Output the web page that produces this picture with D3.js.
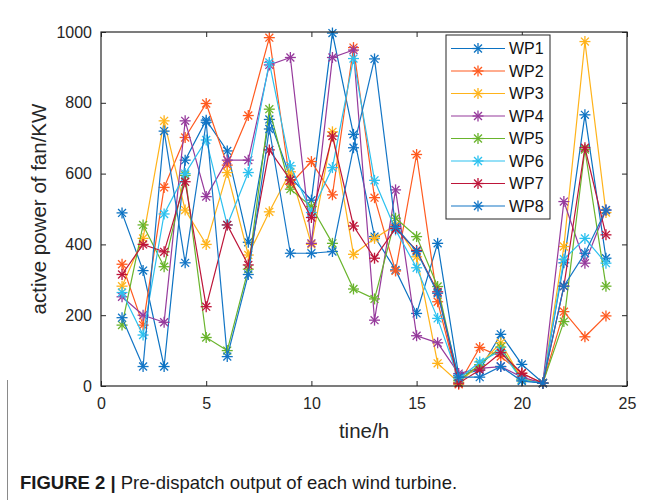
<!DOCTYPE html>
<html>
<head>
<meta charset="utf-8">
<script src="https://cdn.jsdelivr.net/npm/d3@7"></script>
<style>
  html, body { margin: 0; padding: 0; background: #ffffff; }
  svg { display: block; }
  text { font-family: "Liberation Sans", Arial, Helvetica, sans-serif; }
</style>
</head>
<body>
<svg id="chart" width="651" height="500"></svg>
<script>
// Hours of the day (x values)
const hours = d3.range(1, 25);

// Pre-dispatch active power of each wind turbine (kW)
const WP1 = [489, 326, 55, 638, 751, 664, 406, 753, 590, 525, 997, 711, 422, 328, 205, 403, 30, 45, 146, 61, 9, 348, 766, 361];
const WP2 = [344, 172, 561, 702, 798, 624, 764, 984, 570, 634, 540, 956, 532, 325, 654, 238, 5, 109, 83, 36, 8, 210, 139, 198];
const WP3 = [282, 417, 749, 497, 400, 603, 370, 492, 605, 400, 718, 372, 417, 455, 365, 64, 10, 60, 122, 20, 8, 394, 973, 490];
const WP4 = [252, 200, 180, 749, 535, 638, 638, 907, 928, 403, 928, 949, 186, 554, 142, 122, 35, 50, 55, 25, 8, 521, 347, 497];
const WP5 = [172, 455, 337, 595, 137, 100, 330, 782, 556, 507, 403, 274, 246, 474, 422, 281, 15, 60, 110, 17, 8, 182, 668, 282];
const WP6 = [264, 144, 486, 600, 695, 455, 603, 914, 622, 490, 617, 925, 581, 441, 334, 191, 20, 68, 100, 17, 8, 358, 417, 347];
const WP7 = [315, 400, 379, 577, 224, 455, 342, 667, 582, 476, 706, 452, 361, 445, 383, 266, 8, 45, 94, 36, 8, 282, 673, 427];
const WP8 = [193, 55, 720, 348, 745, 83, 315, 726, 375, 375, 380, 673, 924, 450, 380, 262, 25, 25, 55, 14, 8, 282, 375, 497];

const seriesNames = ["WP1", "WP2", "WP3", "WP4", "WP5", "WP6", "WP7", "WP8"];
const seriesValues = [WP1, WP2, WP3, WP4, WP5, WP6, WP7, WP8];
const seriesColors = ["#0b72c2", "#ff5a1f", "#ffb31a", "#963a9c", "#69b42c", "#2cc1ef", "#bd1539", "#1476c6"];

const xTicks = [0, 5, 10, 15, 20, 25];
const yTicks = [0, 200, 400, 600, 800, 1000];

const svg = d3.select("#chart");
const axisColor = "#262626";

const plot = { left: 101, right: 627, top: 32, bottom: 386 };

const x = d3.scaleLinear().domain([0, 25]).range([plot.left, plot.right]);
const y = d3.scaleLinear().domain([0, 1000]).range([plot.bottom, plot.top]);

// Data lines and asterisk markers
const line = d3.line()
  .x((d, i) => x(hours[i]))
  .y(d => y(d));

function asterisk(g, cx, cy, color) {
  const r = 5.5, d = r * 0.72;
  const segs = [
    [cx - r, cy, cx + r, cy],
    [cx, cy - r, cx, cy + r],
    [cx - d, cy - d, cx + d, cy + d],
    [cx - d, cy + d, cx + d, cy - d]
  ];
  segs.forEach(s => {
    g.append("line")
      .attr("x1", s[0]).attr("y1", s[1])
      .attr("x2", s[2]).attr("y2", s[3])
      .attr("stroke", color)
      .attr("stroke-width", 1.3);
  });
}

const dataG = svg.append("g");
seriesValues.forEach((vals, k) => {
  const g = dataG.append("g");
  g.append("path")
    .datum(vals)
    .attr("d", line)
    .attr("fill", "none")
    .attr("stroke", seriesColors[k])
    .attr("stroke-width", 1.2);
  vals.forEach((v, i) => asterisk(g, x(hours[i]), y(v), seriesColors[k]));
});

// Axes: ticks point inward on all four sides
const axG = svg.append("g");
const fmt = d3.format("d");
const bottomAxis = d3.axisBottom(x).tickValues(xTicks).tickFormat(fmt).tickSizeInner(-5).tickSizeOuter(0).tickPadding(12);
const topAxis = d3.axisTop(x).tickValues(xTicks).tickSizeInner(-5).tickSizeOuter(0).tickFormat("");
const leftAxis = d3.axisLeft(y).tickValues(yTicks).tickFormat(fmt).tickSizeInner(-5).tickSizeOuter(0).tickPadding(9);
const rightAxis = d3.axisRight(y).tickValues(yTicks).tickSizeInner(-5).tickSizeOuter(0).tickFormat("");

function styleAxis(sel) {
  sel.select(".domain").remove();
  sel.selectAll(".tick line").attr("stroke", axisColor).attr("stroke-width", 1);
  sel.selectAll(".tick text")
    .attr("fill", axisColor)
    .style("font-size", "16px")
    .style("font-family", "'Liberation Sans', Arial, sans-serif");
}

axG.append("g").attr("transform", `translate(0,${plot.bottom})`).call(bottomAxis).call(styleAxis);
axG.append("g").attr("transform", `translate(0,${plot.top})`).call(topAxis).call(styleAxis);
axG.append("g").attr("transform", `translate(${plot.left},0)`).call(leftAxis).call(styleAxis);
axG.append("g").attr("transform", `translate(${plot.right},0)`).call(rightAxis).call(styleAxis);

axG.append("rect")
  .attr("x", plot.left).attr("y", plot.top)
  .attr("width", plot.right - plot.left).attr("height", plot.bottom - plot.top)
  .attr("fill", "none").attr("stroke", axisColor).attr("stroke-width", 1.2);

// Axis titles
svg.append("text")
  .attr("x", (plot.left + plot.right) / 2)
  .attr("y", 438)
  .attr("text-anchor", "middle")
  .attr("fill", axisColor)
  .style("font-size", "20.5px")
  .text("tine/h");

svg.append("text")
  .attr("transform", `translate(46,${(plot.top + plot.bottom) / 2}) rotate(-90)`)
  .attr("text-anchor", "middle")
  .attr("fill", axisColor)
  .style("font-size", "20.5px")
  .text("active power of fan/KW");

// Legend
const legend = svg.append("g");
const lg = { x: 446, y: 35, w: 104, h: 184, row: 22.5, first: 48.5 };
legend.append("rect")
  .attr("x", lg.x).attr("y", lg.y)
  .attr("width", lg.w).attr("height", lg.h)
  .attr("fill", "#ffffff").attr("stroke", axisColor).attr("stroke-width", 1);

seriesNames.forEach((name, k) => {
  const cy = lg.first + k * lg.row;
  legend.append("line")
    .attr("x1", 451).attr("x2", 505)
    .attr("y1", cy).attr("y2", cy)
    .attr("stroke", seriesColors[k]).attr("stroke-width", 1.2);
  asterisk(legend, 478, cy, seriesColors[k]);
  legend.append("text")
    .attr("x", 509).attr("y", cy + 5.5)
    .attr("fill", "#111")
    .style("font-size", "16px")
    .text(name);
});

// Caption
svg.append("line")
  .attr("x1", 7.5).attr("x2", 7.5).attr("y1", 380).attr("y2", 500)
  .attr("stroke", "#8a8a8a").attr("stroke-width", 1);

const cap = svg.append("text")
  .attr("x", 20).attr("y", 489)
  .attr("fill", "#1a1a1a")
  .style("font-size", "18.5px");
cap.append("tspan").style("font-weight", "bold").text("FIGURE 2 | ");
cap.append("tspan").text("Pre-dispatch output of each wind turbine.");
</script>
</body>
</html>
